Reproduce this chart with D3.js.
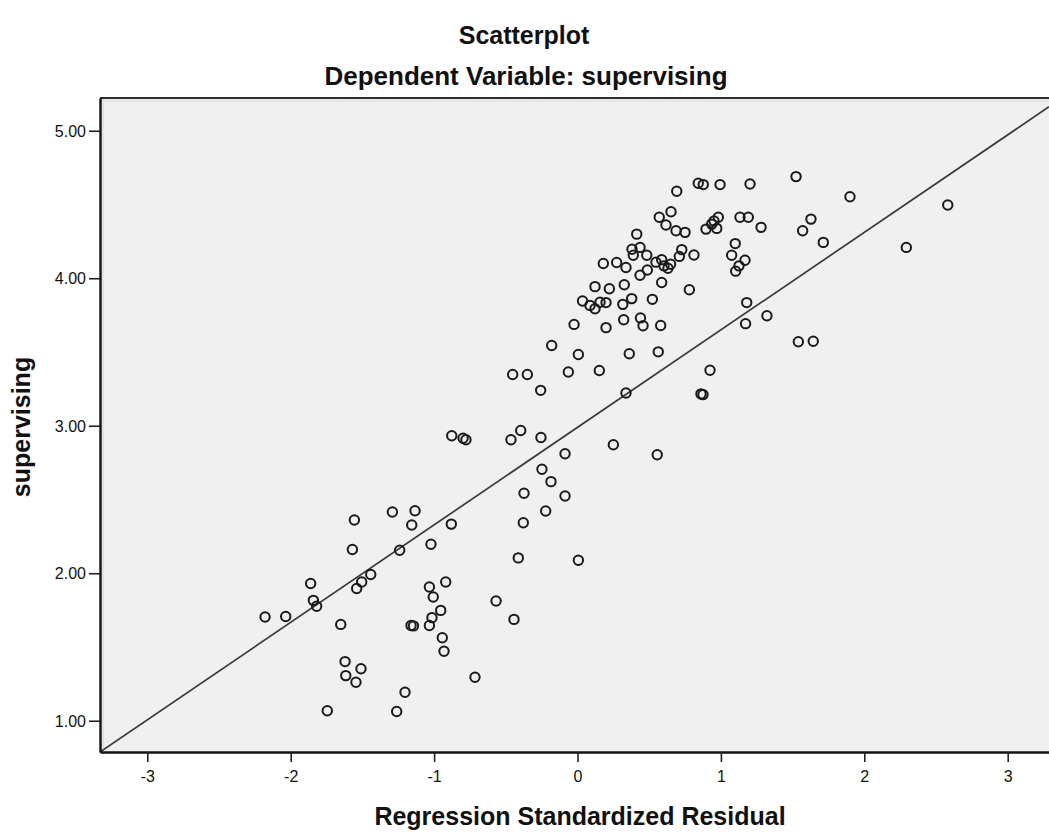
<!DOCTYPE html>
<html>
<head>
<meta charset="utf-8">
<script src="https://cdn.jsdelivr.net/npm/d3@7"></script>
<style>
  html, body { margin: 0; padding: 0; background: #ffffff; }
  svg { display: block; }
  text { font-family: "Liberation Sans", Arial, sans-serif; fill: #111; }
</style>
</head>
<body>
<svg id="chart" width="1049" height="834"></svg>
<script>
// ---- data ----
const chartTitle = "Scatterplot";
const chartSubtitle = "Dependent Variable: supervising";
const xLabel = "Regression Standardized Residual";
const yLabel = "supervising";

const residual = [
  -0.257, 0.338, -0.877, -0.798, -0.778, -0.396, -0.464, -0.255, 0.250, -0.087,
  -0.248, -0.185, -0.087, -0.373, -0.222, -0.378, -1.556, -1.291, -1.133, -1.156,
  -0.880, -1.570, -1.240, -1.022, -0.413, 0.006, -1.861, -1.442, -1.505, -1.540,
  -1.842, -1.819, -2.179, -2.035, -1.651, -1.033, -0.919, -1.006, -0.954, -1.015,
  -1.033, -1.161, -1.144, -0.568, -0.443, -0.943, -0.931, -1.621, -1.510, -1.616,
  -1.545, -1.203, -0.715, -1.745, -1.261, -0.452, -0.350, -0.180, -0.024, 0.006,
  -0.064, 0.152, 0.361, 0.563, 0.199, 0.861, 0.875, 0.924, 0.556, 1.180,
  1.321, 1.172, 1.540, 1.644, 1.524, 1.900, 2.582, 2.293, 1.714, 1.628,
  1.570, 1.280, 1.133, 1.191, 1.203, 0.994, 0.842, 0.877, 0.692, 0.570,
  0.652, 0.617, 0.687, 0.750, 0.896, 0.936, 0.982, 0.971, 0.413, 0.436,
  0.389, 0.483, 0.180, 0.273, 0.338, 0.436, 0.487, 0.587, 0.603, 0.649,
  0.727, 0.710, 0.812, 1.100, 1.075, 1.168, 1.126, 1.103, 0.587, 0.780,
  0.122, 0.222, 0.326, 0.035, 0.122, 0.199, 0.316, 0.378, 0.522, 0.322,
  0.439, 0.457, 0.580, 0.087, 0.157, 0.547, 0.631, 0.380, 0.952
];

const supervising = [
  3.240, 3.222, 2.932, 2.915, 2.905, 2.968, 2.905, 2.920, 2.871, 2.810,
  2.705, 2.621, 2.524, 2.542, 2.422, 2.342, 2.361, 2.415, 2.424, 2.327,
  2.333, 2.161, 2.156, 2.197, 2.104, 2.088, 1.930, 1.991, 1.941, 1.896,
  1.816, 1.776, 1.703, 1.707, 1.653, 1.907, 1.941, 1.839, 1.748, 1.699,
  1.646, 1.646, 1.643, 1.812, 1.687, 1.563, 1.471, 1.401, 1.352, 1.306,
  1.261, 1.193, 1.295, 1.068, 1.063, 3.347, 3.347, 3.544, 3.687, 3.483,
  3.364, 3.374, 3.488, 3.501, 3.665, 3.216, 3.211, 3.376, 2.803, 3.835,
  3.746, 3.692, 3.569, 3.573, 4.689, 4.553, 4.497, 4.209, 4.243, 4.401,
  4.322, 4.345, 4.413, 4.413, 4.639, 4.635, 4.644, 4.635, 4.590, 4.413,
  4.451, 4.361, 4.322, 4.311, 4.333, 4.367, 4.413, 4.338, 4.299, 4.209,
  4.156, 4.156, 4.100, 4.107, 4.073, 4.020, 4.056, 4.126, 4.084, 4.095,
  4.194, 4.148, 4.158, 4.235, 4.156, 4.122, 4.084, 4.048, 3.971, 3.922,
  3.943, 3.929, 3.956, 3.846, 3.793, 3.835, 3.823, 3.862, 3.857, 3.719,
  3.731, 3.678, 3.680, 3.816, 3.837, 4.109, 4.068, 4.197, 4.388
];

const xTicks = [-3, -2, -1, 0, 1, 2, 3];
const yTicks = [1, 2, 3, 4, 5];
const fitIntercept = 2.989;
const fitSlope = 0.661;

// ---- layout ----
const svg = d3.select("#chart");
const pLeft = 100, pRight = 1049, pTop = 98, pBottom = 752;

const x = d3.scaleLinear().domain([-3.33, 3.288]).range([pLeft, pRight]);
const y = d3.scaleLinear().domain([0.788, 5.222]).range([pBottom, pTop]);

// plot background
svg.append("rect")
  .attr("x", pLeft).attr("y", pTop)
  .attr("width", pRight - pLeft).attr("height", pBottom - pTop)
  .attr("fill", "#f0f0f0");

// inner light frame lines
svg.append("line").attr("x1", pLeft).attr("x2", pRight).attr("y1", pTop + 3).attr("y2", pTop + 3)
  .attr("stroke", "#d6d6d6").attr("stroke-width", 1);
svg.append("line").attr("x1", pLeft + 3).attr("x2", pLeft + 3).attr("y1", pTop).attr("y2", pBottom)
  .attr("stroke", "#d6d6d6").attr("stroke-width", 1);

// top border
svg.append("line").attr("x1", pLeft).attr("x2", pRight).attr("y1", pTop).attr("y2", pTop)
  .attr("stroke", "#2a2a2a").attr("stroke-width", 2);

// clip
svg.append("clipPath").attr("id", "plotclip")
  .append("rect").attr("x", pLeft).attr("y", pTop)
  .attr("width", pRight - pLeft).attr("height", pBottom - pTop);

// fit line
const [x0, x1] = x.domain();
svg.append("line")
  .attr("clip-path", "url(#plotclip)")
  .attr("x1", x(x0)).attr("y1", y(fitIntercept + fitSlope * x0))
  .attr("x2", x(x1)).attr("y2", y(fitIntercept + fitSlope * x1))
  .attr("stroke", "#3a3a3a").attr("stroke-width", 1.7);

// points
const pts = residual.map((r, i) => ({ r, s: supervising[i] }));
svg.append("g").attr("clip-path", "url(#plotclip)")
  .selectAll("circle").data(pts).join("circle")
  .attr("cx", d => x(d.r)).attr("cy", d => y(d.s))
  .attr("r", 4.7)
  .attr("fill", "none")
  .attr("stroke", "#1a1a1a")
  .attr("stroke-width", 2);

// axes
const xAxis = svg.append("g").attr("transform", `translate(0,${pBottom})`)
  .call(d3.axisBottom(x).tickValues(xTicks).tickSize(10).tickSizeOuter(0).tickPadding(5)
    .tickFormat(d => String(d)));
const yAxis = svg.append("g").attr("transform", `translate(${pLeft},0)`)
  .call(d3.axisLeft(y).tickValues(yTicks).tickSize(11).tickSizeOuter(0).tickPadding(3)
    .tickFormat(d3.format(".2f")));

[xAxis, yAxis].forEach(g => {
  g.select(".domain").attr("stroke", "#111").attr("stroke-width", 2.4);
  g.selectAll(".tick line").attr("stroke", "#222").attr("stroke-width", 1.6);
  g.selectAll(".tick text")
    .style("font-family", "'Liberation Sans', Arial, sans-serif")
    .style("font-size", "16px").attr("fill", "#222");
});
yAxis.selectAll(".tick text").attr("dy", "0.35em");
xAxis.selectAll(".tick text").attr("dy", "0.95em");

// titles
svg.append("text").attr("x", 524).attr("y", 44).attr("text-anchor", "middle")
  .style("font-size", "25px").style("font-weight", "bold").text(chartTitle);
svg.append("text").attr("x", 526).attr("y", 85).attr("text-anchor", "middle")
  .style("font-size", "26px").style("font-weight", "bold").text(chartSubtitle);
svg.append("text").attr("x", 580).attr("y", 825).attr("text-anchor", "middle")
  .style("font-size", "25px").style("font-weight", "bold").text(xLabel);
svg.append("text").attr("transform", "translate(30,427) rotate(-90)").attr("text-anchor", "middle")
  .style("font-size", "25px").style("font-weight", "bold").text(yLabel);
</script>
</body>
</html>
